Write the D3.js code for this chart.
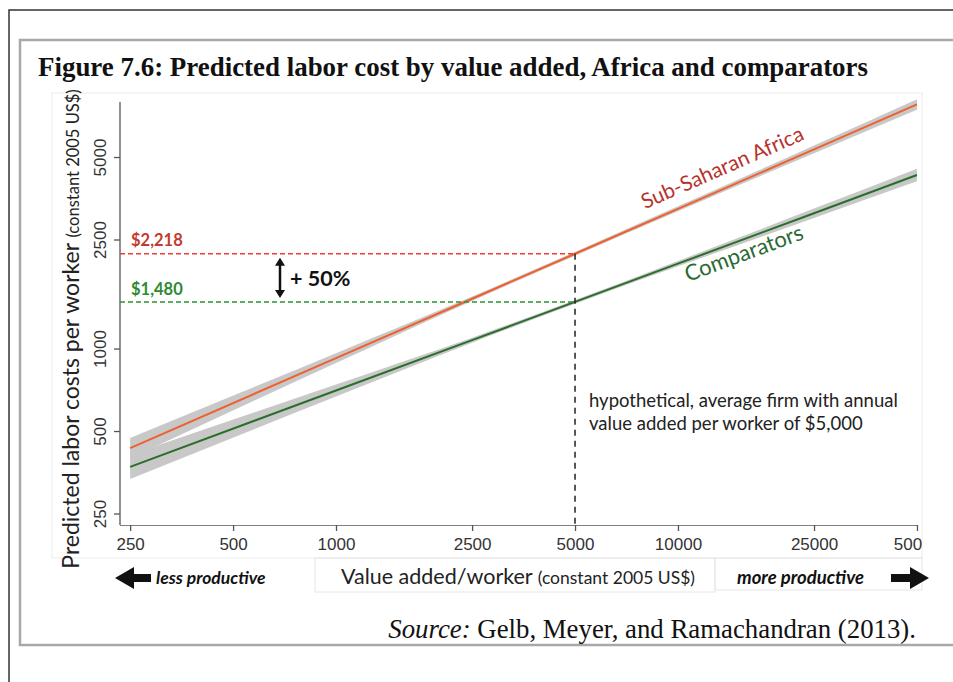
<!DOCTYPE html>
<html>
<head>
<meta charset="utf-8">
<script src="https://cdn.jsdelivr.net/npm/d3@7"></script>
<style>
  body { margin: 0; background: #fff; }
  svg { display: block; }
</style>
</head>
<body>
<div id="chart"></div>
<script>
// ---- data ----
const xTicks = [250, 500, 1000, 2500, 5000, 10000, 25000, 50000];
const yTicks = [250, 500, 1000, 2500, 5000];

const valueAdded = [250, 1000, 2500, 5000, 10000, 25000, 50000];
const ssaFit  = [433, 923, 1520, 2218, 3236, 5332, 7781];
const ssaLow  = [398, 886, 1492, 2183, 3169, 5162, 7446];
const ssaHigh = [472, 962, 1549, 2253, 3304, 5508, 8131];
const compFit  = [370, 703, 1073, 1480, 2041, 3117, 4298];
const compLow  = [334, 668, 1051, 1457, 1995, 2997, 4078];
const compHigh = [410, 740, 1096, 1504, 2088, 3242, 4530];

const refValueAdded = 5000;
const ssaAtRef = 2218;
const compAtRef = 1480;

const titleText = "Figure 7.6: Predicted labor cost by value added, Africa and comparators";
const sourceText = " Gelb, Meyer, and Ramachandran (2013).";

const W = 953, H = 682;
const svg = d3.select("#chart").append("svg").attr("width", W).attr("height", H);

// page frames
svg.append("path").attr("d", `M9,${H} V10 H${W}`).attr("fill", "none")
  .attr("stroke", "#333").attr("stroke-width", 1.5);
svg.append("rect").attr("x", 20).attr("y", 40).attr("width", 960).attr("height", 605)
  .attr("fill", "none").attr("stroke", "#a8a8a8").attr("stroke-width", 2.5);

svg.append("text").attr("x", 38).attr("y", 76)
  .attr("font-family", "Liberation Serif, Times New Roman, serif")
  .attr("font-weight", "bold").attr("font-size", 27).attr("fill", "#111")
  .attr("textLength", 830).attr("lengthAdjust", "spacingAndGlyphs")
  .text(titleText);

// faint graph-region boxes
svg.append("rect").attr("x", 52).attr("y", 93).attr("width", 870).attr("height", 465)
  .attr("fill", "none").attr("stroke", "#ececec");
svg.append("rect").attr("x", 315).attr("y", 558).attr("width", 400).attr("height", 34)
  .attr("fill", "none").attr("stroke", "#e6e6e6");
svg.append("rect").attr("x", 715).attr("y", 558).attr("width", 207).attr("height", 32)
  .attr("fill", "none").attr("stroke", "#e6e6e6");

// scales
const x = d3.scaleLog().domain([233.5, 50350]).range([120, 918]);
const y = d3.scaleLog().domain([227, 7939]).range([525, 102]);

const fmt = d3.format("d");
const sans = "Liberation Sans, Arial, sans-serif";
const gill = "Lato, Open Sans, sans-serif";

// clip for the cut-off last x label
svg.append("clipPath").attr("id", "clipX").append("rect")
  .attr("x", 0).attr("y", 0).attr("width", 922).attr("height", H);

// axes
const xAxis = svg.append("g").attr("transform", "translate(0,525)")
  .call(d3.axisBottom(x).tickValues(xTicks).tickFormat(fmt).tickSizeOuter(0).tickSize(6).tickPadding(7));
xAxis.attr("clip-path", "url(#clipX)");
xAxis.select(".domain").attr("d", "M120,0H918").attr("stroke", "#555").attr("stroke-width", 1.3);
xAxis.selectAll(".tick line").attr("stroke", "#555").attr("stroke-width", 1.3);
xAxis.selectAll(".tick text").attr("font-family", sans).attr("font-size", 17).attr("fill", "#333");

const yAxis = svg.append("g").attr("transform", "translate(120,0)")
  .call(d3.axisLeft(y).tickValues(yTicks).tickFormat(fmt).tickSizeOuter(0).tickSize(6).tickPadding(0));
yAxis.select(".domain").attr("d", "M0,102V525").attr("stroke", "#555").attr("stroke-width", 1.3);
yAxis.selectAll(".tick line").attr("stroke", "#555").attr("stroke-width", 1.3);
yAxis.selectAll(".tick text")
  .attr("font-family", sans).attr("font-size", 17).attr("fill", "#333")
  .attr("text-anchor", "middle").attr("x", 0).attr("dy", 0)
  .attr("transform", "translate(-14,0) rotate(-90)");

// confidence bands
const area = (lo, hi) => d3.area()
  .curve(d3.curveMonotoneX)
  .x((d, i) => x(valueAdded[i]))
  .y0((d, i) => y(lo[i]))
  .y1((d, i) => y(hi[i]))(valueAdded);
svg.append("path").attr("d", area(compLow, compHigh)).attr("fill", "#c8c8c8");
svg.append("path").attr("d", area(ssaLow, ssaHigh)).attr("fill", "#c8c8c8");

// fitted lines
const line = vals => d3.line().x((d, i) => x(valueAdded[i])).y((d, i) => y(vals[i]))(valueAdded);
svg.append("path").attr("d", line(compFit)).attr("fill", "none")
  .attr("stroke", "#2a6e2c").attr("stroke-width", 2);
svg.append("path").attr("d", line(ssaFit)).attr("fill", "none")
  .attr("stroke", "#f0602e").attr("stroke-width", 2);

// reference dashed lines
svg.append("line").attr("x1", 120).attr("x2", x(refValueAdded))
  .attr("y1", y(ssaAtRef)).attr("y2", y(ssaAtRef))
  .attr("stroke", "#f03c36").attr("stroke-width", 1.5).attr("stroke-dasharray", "5,3");
svg.append("line").attr("x1", 120).attr("x2", x(refValueAdded))
  .attr("y1", y(compAtRef)).attr("y2", y(compAtRef))
  .attr("stroke", "#2f9232").attr("stroke-width", 1.5).attr("stroke-dasharray", "5,3");
svg.append("line").attr("x1", x(refValueAdded)).attr("x2", x(refValueAdded))
  .attr("y1", y(ssaAtRef)).attr("y2", 525)
  .attr("stroke", "#222").attr("stroke-width", 1.5).attr("stroke-dasharray", "6,5");

svg.append("text").attr("x", 131).attr("y", y(ssaAtRef) - 8)
  .attr("font-family", gill).attr("font-weight", "bold").attr("font-size", 16.5)
  .attr("fill", "#c43a2e").text("$" + d3.format(",")(ssaAtRef));
svg.append("text").attr("x", 131).attr("y", y(compAtRef) - 7)
  .attr("font-family", gill).attr("font-weight", "bold").attr("font-size", 16.5)
  .attr("fill", "#2d8a2f").text("$" + d3.format(",")(compAtRef));

// double arrow + 50%
const ay1 = y(ssaAtRef) + 4, ay2 = y(compAtRef) - 4, ax = 280;
svg.append("line").attr("x1", ax).attr("x2", ax).attr("y1", ay1 + 6).attr("y2", ay2 - 6)
  .attr("stroke", "#111").attr("stroke-width", 2.5);
svg.append("path").attr("d", `M${ax},${ay1} l-5,8 h10 Z M${ax},${ay2} l-5,-8 h10 Z`).attr("fill", "#111");
svg.append("text").attr("x", 290).attr("y", (ay1 + ay2) / 2 + 8)
  .attr("font-family", gill).attr("font-weight", "bold").attr("font-size", 21.5)
  .attr("fill", "#111").text("+ 50%");

// series labels along the lines
function slopeOf(vals) {
  const i0 = 3, i1 = 6;
  return (y(vals[i1]) - y(vals[i0])) / (x(valueAdded[i1]) - x(valueAdded[i0]));
}
const ssaSlope = slopeOf(ssaFit);
const ssaX = 645;
svg.append("text")
  .attr("transform", `translate(${ssaX},${y(ssaAtRef) + ssaSlope * (ssaX - x(refValueAdded)) - 14}) rotate(${Math.atan(ssaSlope) * 180 / Math.PI})`)
  .attr("font-family", gill).attr("font-size", 21).attr("fill", "#b8322c")
  .text("Sub-Saharan Africa");
const compSlope = slopeOf(compFit);
const compX = 688;
svg.append("text")
  .attr("transform", `translate(${compX},${y(compAtRef) + compSlope * (compX - x(refValueAdded)) + 22}) rotate(${Math.atan(compSlope) * 180 / Math.PI})`)
  .attr("font-family", gill).attr("font-size", 22).attr("fill", "#2a6a33")
  .text("Comparators");

// note
svg.append("text").attr("x", 589).attr("y", 407)
  .attr("font-family", gill).attr("font-size", 18.5).attr("fill", "#222")
  .text("hypothetical, average firm with annual");
svg.append("text").attr("x", 589).attr("y", 430)
  .attr("font-family", gill).attr("font-size", 18.5).attr("fill", "#222")
  .text("value added per worker of $5,000");

// axis titles
const yt = svg.append("text")
  .attr("transform", "translate(79,329) rotate(-90)")
  .attr("text-anchor", "middle").attr("font-family", gill).attr("fill", "#222");
yt.append("tspan").attr("font-size", 23).text("Predicted labor costs per worker ");
yt.append("tspan").attr("font-size", 16.5).text("(constant 2005 US$)");

const xt = svg.append("text").attr("x", 518).attr("y", 584)
  .attr("text-anchor", "middle").attr("font-family", gill).attr("fill", "#222");
xt.append("tspan").attr("font-size", 21.5).text("Value added/worker ");
xt.append("tspan").attr("font-size", 17.5).text("(constant 2005 US$)");

// productivity arrows
svg.append("path").attr("d", "M115,578 l19,-11 v7 h17 v8 h-17 v7 Z").attr("fill", "#111");
svg.append("text").attr("x", 156).attr("y", 584)
  .attr("font-family", gill).attr("font-weight", "bold").attr("font-style", "italic")
  .attr("font-size", 17.5).attr("fill", "#111").text("less productive");
svg.append("path").attr("d", "M929,578 l-19,-11 v7 h-19 v8 h19 v7 Z").attr("fill", "#111");
svg.append("text").attr("x", 737).attr("y", 584)
  .attr("font-family", gill).attr("font-weight", "bold").attr("font-style", "italic")
  .attr("font-size", 18.5).attr("fill", "#111").text("more productive");

// source
const src = svg.append("text").attr("x", 916).attr("y", 638).attr("text-anchor", "end")
  .attr("font-family", "Liberation Serif, Times New Roman, serif").attr("font-size", 26.8).attr("fill", "#111");
src.append("tspan").attr("font-style", "italic").text("Source:");
src.append("tspan").text(sourceText);
</script>
</body>
</html>
